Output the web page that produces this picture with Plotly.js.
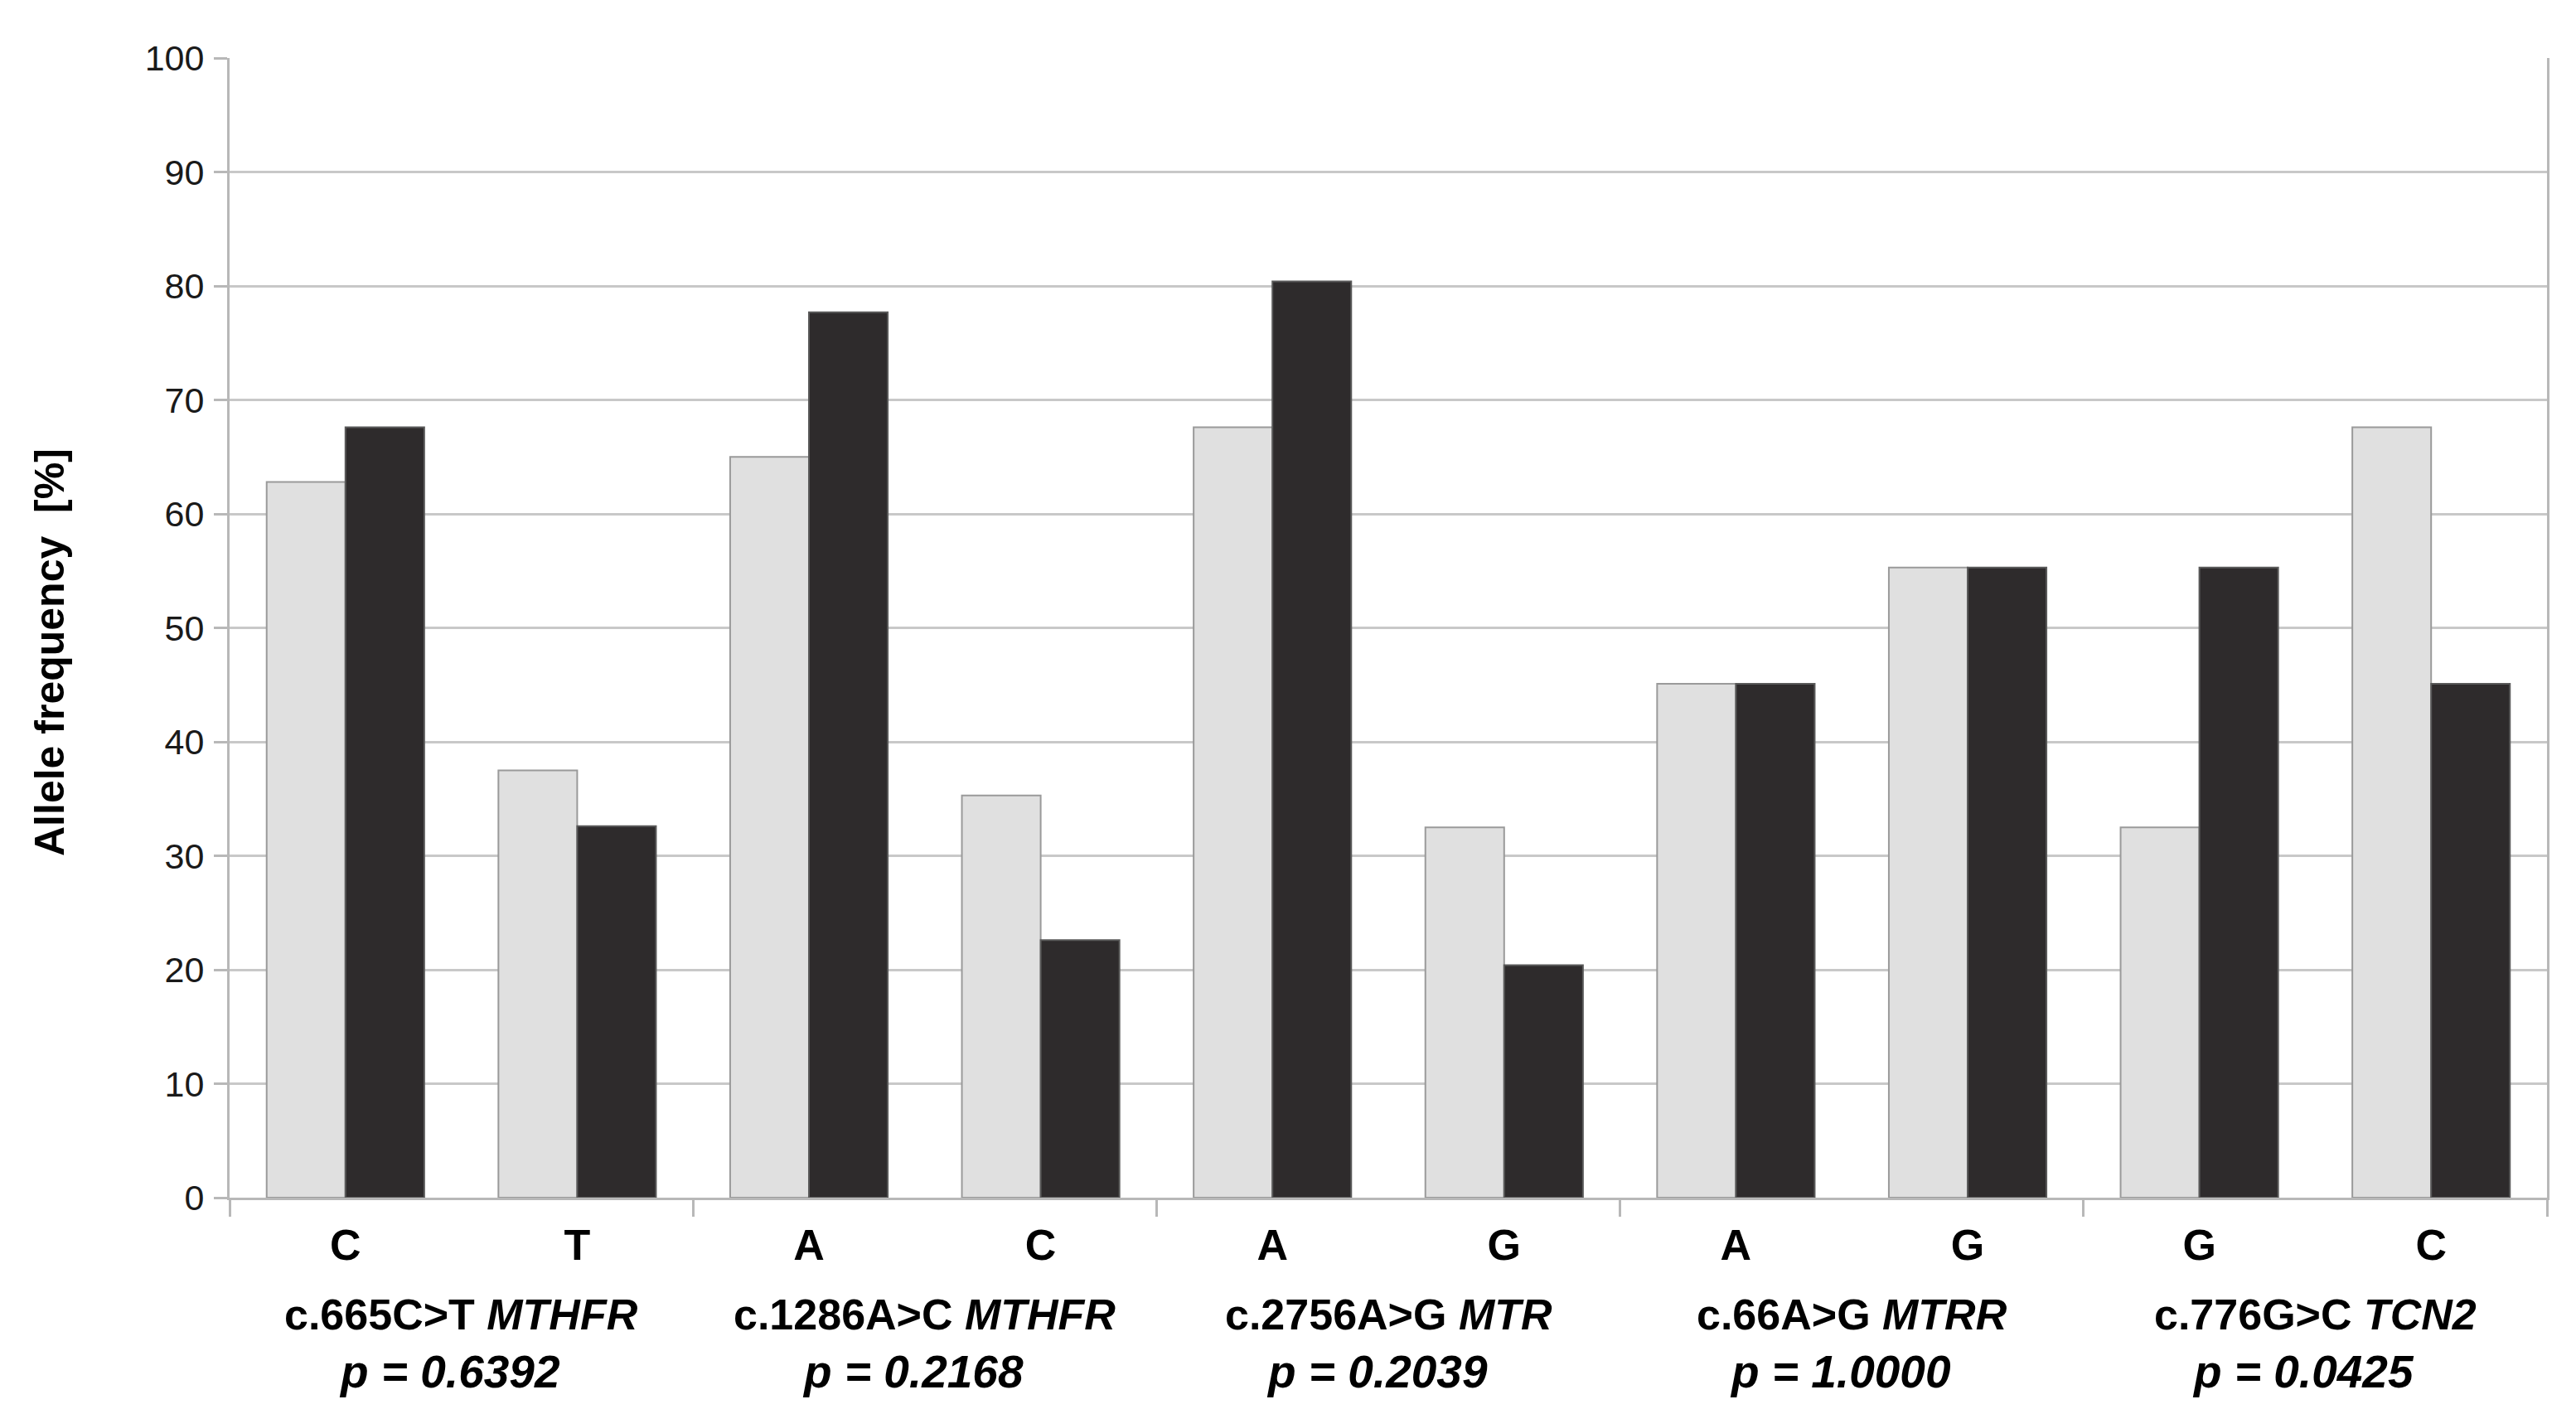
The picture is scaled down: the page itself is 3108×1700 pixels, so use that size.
<!DOCTYPE html>
<html>
<head>
<meta charset="utf-8">
<script src="https://cdn.plot.ly/plotly-3.0.1.min.js"></script>
<style>
  html, body { margin: 0; padding: 0; background: #ffffff; }
  #chart { width: 3108px; height: 1700px; }
</style>
</head>
<body>
<div id="chart"></div>
<script>
// ---- data ----
const alleles = ["C", "T", "A", "C", "A", "G", "A", "G", "G", "C"];
const variants = ["c.665C>T", "c.1286A>C", "c.2756A>G", "c.66A>G", "c.776G>C"];
const genes = ["MTHFR", "MTHFR", "MTR", "MTRR", "TCN2"];
const pValues = ["0.6392", "0.2168", "0.2039", "1.0000", "0.0425"];
const seriesLight = [62.8, 37.5, 65.0, 35.3, 67.6, 32.5, 45.1, 55.3, 32.5, 67.6];
const seriesDark  = [67.6, 32.6, 77.7, 22.6, 80.4, 20.4, 45.1, 55.3, 55.3, 45.1];
const yTicks = [0, 10, 20, 30, 40, 50, 60, 70, 80, 90, 100];

const idx = alleles.map((_, i) => i);
const FONT = "Liberation Sans, Arial, sans-serif";

const traces = [
  {
    type: "bar", name: "Series 1", x: idx, y: seriesLight,
    marker: { color: "#e0e0e0", line: { color: "#9a9a9a", width: 2 } },
    hoverinfo: "y"
  },
  {
    type: "bar", name: "Series 2", x: idx, y: seriesDark,
    marker: { color: "#2e2b2c", line: { color: "#5a5a5a", width: 2 } },
    hoverinfo: "y"
  }
];

const annotations = [];
variants.forEach((v, g) => {
  const cx = 2 * g + 0.5;
  annotations.push({
    x: cx, xref: "x", y: (1445 - 1586) / 1375, yref: "paper",
    text: "<b>" + v + " <i>" + genes[g] + "</i></b>",
    showarrow: false, xanchor: "center", yanchor: "middle",
    font: { family: FONT, size: 52, color: "#000000" }
  });
  annotations.push({
    x: cx, xref: "x", xshift: -14, y: (1445 - 1655) / 1375, yref: "paper",
    text: "<b><i>p = " + pValues[g] + "</i></b>",
    showarrow: false, xanchor: "center", yanchor: "middle",
    font: { family: FONT, size: 55, color: "#000000" }
  });
});
annotations.push({
  x: 0, xref: "paper", xshift: -217, y: (1445 - 787) / 1375, yref: "paper",
  text: "<b>Allele frequency  [%]</b>", textangle: -90,
  showarrow: false, xanchor: "center", yanchor: "middle",
  font: { family: FONT, size: 50, color: "#000000" }
});

const layout = {
  width: 3108, height: 1700,
  margin: { l: 277, r: 35, t: 70, b: 255, pad: 0 },
  paper_bgcolor: "#ffffff", plot_bgcolor: "#ffffff",
  showlegend: false,
  barmode: "group", bargap: 0.32, bargroupgap: 0,
  font: { family: FONT, color: "#000000" },
  xaxis: {
    range: [-0.5, 9.5],
    tickmode: "array", tickvals: idx, ticktext: alleles.map(a => "<b>" + a + "</b>"),
    ticks: "", ticklabelstandoff: 10,
    tickfont: { family: FONT, size: 52, color: "#000000" },
    showgrid: false, zeroline: false,
    showline: true, linecolor: "#b8b8b8", linewidth: 3, mirror: false,
    minor: { tickmode: "linear", tick0: -0.5, dtick: 2, ticks: "outside",
             ticklen: 20, tickwidth: 3, tickcolor: "#b8b8b8", showgrid: false }
  },
  yaxis: {
    range: [0, 100],
    tickmode: "array", tickvals: yTicks, ticktext: yTicks.map(String),
    ticks: "outside", ticklen: 16, tickwidth: 3, tickcolor: "#b8b8b8",
    ticklabelstandoff: 3,
    tickfont: { family: FONT, size: 43, color: "#1a1a1a" },
    showgrid: true, gridcolor: "#c8c8c8", gridwidth: 3,
    zeroline: false,
    showline: true, linecolor: "#b8b8b8", linewidth: 3, mirror: true
  },
  annotations: annotations
};

Plotly.newPlot("chart", traces, layout, { staticPlot: true, displayModeBar: false });
</script>
</body>
</html>
